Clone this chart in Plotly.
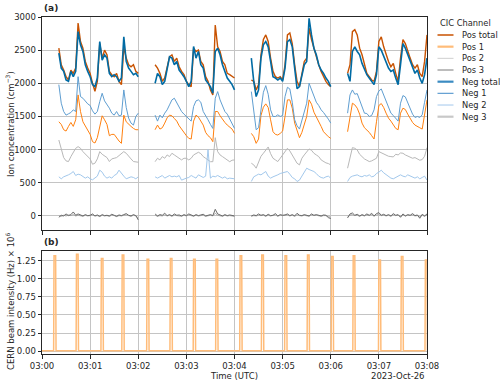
import datetime as dt
import plotly.graph_objects as go

# ---------------- data ----------------
BASE = dt.datetime(2023, 10, 26, 3, 0, 0)
segment_start_minutes = [0, 2, 4, 6]
sample_seconds = list(range(21, 121, 3))  # 34 samples per measurement segment

series_names = ["Pos total", "Pos 1", "Pos 2", "Pos 3", "Neg total", "Neg 1", "Neg 2", "Neg 3"]

pos_total = [
    [2530, 2280, 2200, 2100, 2050, 2200, 2150, 2230, 2910, 2630, 2530, 2330, 2230, 2150, 2000, 1880, 2030,
     2600, 2380, 2500, 2430, 2180, 2130, 2100, 2150, 2030, 1980, 2550, 2380, 2280, 2250, 2280, 2180, 2150],
    [2280, 2230, 2150, 2030, 2080, 2230, 2400, 2430, 2330, 2380, 2250, 2180, 2130, 2030, 1980, 1950, 2530,
     2480, 2500, 2330, 2280, 2100, 2030, 1900, 1825, 2880, 2550, 2480, 2330, 2280, 2150, 2130, 2100, 2080],
    [2050, 2030, 1900, 1980, 2430, 2660, 2730, 2630, 2380, 2180, 2100, 2080, 2100, 2050, 2280, 2730, 2760,
     2600, 2280, 2030, 1950, 2130, 2330, 2380, 2830, 2660, 2530, 2380, 2280, 2180, 2100, 2030, 1980, 1950],
    [2150, 2280, 2780, 2810, 2730, 2530, 2430, 2280, 2150, 2100, 2050, 2030, 2180, 2630, 2700, 2550, 2430,
     2330, 2250, 2300, 2150, 2030, 2380, 2660, 2600, 2480, 2380, 2280, 2230, 2280, 2150, 2100, 2330, 2730],
]
neg_total = [
    [2455, 2230, 2180, 2050, 2030, 2180, 2100, 2180, 2780, 2580, 2480, 2280, 2180, 2100, 1980, 1950, 2080,
     2630, 2350, 2430, 2380, 2150, 2100, 2130, 2100, 2030, 2080, 2700, 2330, 2230, 2180, 2130, 2150, 2100],
    [2000, 2150, 2100, 1980, 2030, 2200, 2400, 2380, 2280, 2330, 2200, 2150, 2100, 2030, 1950, 2030, 2555,
     2380, 2480, 2280, 2230, 2050, 2000, 1950, 1850, 2480, 2530, 2430, 2280, 2180, 2080, 2030, 1980, 1900],
    [2380, 2030, 1800, 1900, 2380, 2580, 2630, 2550, 2330, 2100, 2080, 2050, 2080, 2030, 2230, 2630, 2660,
     2550, 2230, 1920, 1950, 2100, 2280, 2330, 2980, 2730, 2530, 2430, 2280, 2200, 2150, 2080, 2030, 1950],
    [2150, 2030, 2480, 2550, 2480, 2430, 2300, 2200, 2130, 2080, 2030, 1980, 2130, 2550, 2500, 2400, 2330,
     2230, 2180, 2200, 2080, 1980, 2280, 2600, 2530, 2430, 2330, 2230, 2150, 2200, 2080, 2000, 2130, 2380],
]
neg_1 = [
    [1980, 1700, 1575, 1520, 1540, 1560, 1600, 1575, 2100, 1800, 1775, 1725, 1690, 1665, 1585, 1535, 1575,
     1725, 1850, 1735, 1685, 1625, 1550, 1520, 1575, 1510, 1520, 1900, 1635, 1475, 1400, 1370, 1500, 1550],
    [1520, 1430, 1520, 1480, 1550, 1600, 1675, 1750, 1775, 1700, 1635, 1575, 1535, 1500, 1450, 1430, 1650,
     1735, 1750, 1715, 1575, 1500, 1450, 1380, 1320, 1775, 1875, 1750, 1650, 1575, 1535, 1460, 1400, 1320],
    [1875, 1600, 1300, 1330, 1615, 1865, 1965, 1835, 1600, 1500, 1500, 1525, 1500, 1515, 1800, 1940, 1915,
     1715, 1450, 1360, 1310, 1450, 1585, 1700, 2000, 1900, 1785, 1715, 1665, 1600, 1560, 1515, 1460, 1400],
    [1550, 1825, 1900, 1835, 1845, 1750, 1665, 1550, 1545, 1500, 1515, 1600, 1800, 1885, 1915, 1825, 1735,
     1625, 1550, 1515, 1475, 1430, 1700, 1815, 1795, 1715, 1635, 1535, 1485, 1500, 1485, 1525, 1715, 1900],
]
pos_1 = [
    [1420, 1380, 1300, 1280, 1350, 1410, 1350, 1450, 1825, 1575, 1420, 1360, 1300, 1230, 1120, 1100, 1180,
     1370, 1510, 1450, 1380, 1210, 1230, 1230, 1170, 1130, 1095, 1520, 1420, 1380, 1350, 1320, 1300, 1300],
    [1300, 1370, 1310, 1330, 1400, 1480, 1520, 1510, 1470, 1430, 1360, 1310, 1245, 1210, 1170, 1160, 1430,
     1520, 1490, 1430, 1370, 1260, 1210, 1180, 1120, 1575, 1575, 1510, 1450, 1410, 1370, 1340, 1310, 1245],
    [1245, 1195, 1095, 1160, 1515, 1640, 1690, 1635, 1450, 1270, 1230, 1220, 1245, 1280, 1500, 1750, 1750,
     1625, 1400, 1270, 1180, 1260, 1400, 1500, 1750, 1685, 1565, 1500, 1420, 1350, 1270, 1230, 1195, 1170],
    [1270, 1500, 1700, 1675, 1625, 1535, 1400, 1330, 1300, 1260, 1210, 1160, 1420, 1665, 1695, 1635, 1550,
     1475, 1430, 1370, 1320, 1300, 1550, 1625, 1605, 1535, 1460, 1410, 1370, 1355, 1330, 1310, 1525, 1750],
]
pos_2 = [
    [1145, 995, 880, 830, 820, 895, 960, 1020, 1045, 1020, 970, 930, 895, 860, 780, 795, 860,
     970, 930, 910, 880, 820, 860, 870, 880, 910, 945, 970, 945, 895, 860, 820, 820, 810],
    [818, 870, 845, 895, 870, 920, 895, 945, 920, 895, 870, 845, 870, 870, 845, 870, 920,
     945, 960, 940, 895, 870, 845, 818, 818, 1180, 970, 920, 895, 870, 845, 818, 840, 845],
    [795, 770, 720, 820, 900, 945, 995, 1040, 940, 870, 845, 820, 870, 920, 970, 1020, 980,
     920, 870, 795, 770, 870, 920, 970, 1010, 990, 945, 920, 895, 845, 820, 800, 790, 770],
    [720, 900, 1030, 1020, 995, 930, 890, 860, 840, 820, 830, 850, 870, 970, 950, 940, 920,
     900, 895, 890, 930, 920, 950, 945, 920, 900, 880, 870, 880, 860, 840, 850, 900, 1030],
]
neg_2 = [
    [590, 560, 590, 600, 620, 640, 670, 610, 630, 620, 600, 570, 590, 560, 545, 580, 600,
     690, 660, 600, 570, 590, 570, 610, 630, 690, 640, 600, 560, 580, 590, 580, 560, 590],
    [590, 570, 590, 610, 570, 590, 610, 590, 600, 590, 610, 540, 560, 570, 580, 610, 590,
     570, 620, 600, 580, 600, 1000, 570, 600, 590, 610, 590, 570, 590, 560, 570, 570, 560],
    [520, 590, 610, 630, 620, 640, 670, 600, 570, 590, 600, 620, 640, 650, 660, 670, 630,
     580, 560, 520, 540, 600, 680, 720, 700, 690, 670, 640, 600, 580, 570, 590, 600, 570],
    [520, 580, 600, 610, 620, 600, 590, 610, 600, 620, 590, 600, 640, 660, 690, 650, 620,
     600, 570, 560, 580, 600, 620, 600, 590, 620, 600, 580, 570, 590, 560, 580, 600, 540],
]
pos_3 = [
    [-20, 10, 0, 30, 5, 20, 60, 10, 30, 15, 0, 20, 5, 10, 30, 0, 15,
     -5, 20, 5, 10, 0, 25, 10, -5, 15, 5, 20, 35, 10, 0, 20, 5, -60],
    [30, 0, 20, 10, 40, 5, 20, 0, 30, 10, 15, 0, 20, 5, 30, 10, 0,
     20, 5, 15, 25, 0, 10, 20, 5, 100, 30, 10, 0, 20, 5, 15, 10, 0],
    [0, 15, 5, 30, 10, 20, 0, 25, 5, 10, 35, 0, 20, 10, 15, 30, 5,
     20, 0, 40, 10, 5, 20, 15, 0, 30, 10, 20, 5, 0, 15, 10, -25, -40],
    [-30, 30, 45, 10, 25, 0, 20, 5, 30, 10, 40, 0, 35, 50, 10, 25, 5,
     20, 0, 35, 10, 20, -20, 30, 0, 20, 10, 35, 5, 15, -35, 25, 0, 30],
]
neg_3 = [
    [5, -5, 10, 0, 15, 5, 20, 0, 10, 5, -5, 10, 0, 5, 15, 0, 5,
     -10, 10, 0, 5, -5, 10, 5, -10, 5, 0, 10, 15, 5, -5, 10, 0, -30],
    [10, -5, 5, 0, 15, 0, 10, -5, 10, 5, 0, -5, 10, 0, 15, 5, -5,
     10, 0, 5, 10, -5, 5, 10, 0, 40, 10, 5, -5, 10, 0, 5, 5, -5],
    [-5, 5, 0, 10, 5, 10, -5, 10, 0, 5, 15, -5, 10, 5, 5, 15, 0,
     10, -5, 15, 5, 0, 10, 5, -5, 15, 5, 10, 0, -5, 5, 5, -10, -20],
    [-15, 10, 20, 5, 10, -5, 10, 0, 15, 5, 20, -5, 15, 20, 5, 10, 0,
     10, -5, 15, 5, 10, -10, 15, 0, 10, 5, 15, 0, 5, -15, 10, -5, 15],
]

# CERN beam spills: seconds after 03:00:00 and peak intensity (x 1e6 Hz)
pulse_seconds = [16, 44, 75, 101, 132, 161, 190, 218, 248, 275, 304, 332, 362, 389, 421, 449, 479]
pulse_heights = [1.32, 1.34, 1.28, 1.33, 1.27, 1.28, 1.27, 1.27, 1.32, 1.33, 1.32, 1.33, 1.31, 1.32,
                 1.26, 1.31, 1.26]
beam_baseline = 0.005

# ---------------- helpers ----------------
def seg_xy(values_by_seg):
    xs, ys = [], []
    for m, vals in zip(segment_start_minutes, values_by_seg):
        for s, v in zip(sample_seconds, vals):
            xs.append(BASE + dt.timedelta(minutes=m, seconds=s))
            ys.append(v)
        xs.append(None)
        ys.append(None)
    return xs, ys


def beam_xy():
    xs = [BASE]
    ys = [beam_baseline]
    for t, h in zip(pulse_seconds, pulse_heights):
        for dtsec, val in ((-1.5, beam_baseline), (-1.0, h), (1.0, h), (1.5, beam_baseline)):
            xs.append(BASE + dt.timedelta(seconds=t + dtsec))
            ys.append(val)
    xs.append(BASE + dt.timedelta(minutes=8))
    ys.append(beam_baseline)
    return xs, ys


series_data = [pos_total, pos_1, pos_2, pos_3, neg_total, neg_1, neg_2, neg_3]
plot_colors = ["#c85200", "#ff800e", "#b8b8b8", "#6b6b6b", "#006ba4", "#5f9ed1", "#a2c8ec", "#ababab"]
plot_widths = [1.4, 1.0, 1.0, 1.0, 1.6, 1.0, 1.0, 1.0]
draw_order = [7, 0, 1, 2, 3, 4, 5, 6]

fig = go.Figure()
for i in draw_order:
    x, y = seg_xy(series_data[i])
    fig.add_trace(go.Scatter(x=x, y=y, mode="lines", name=series_names[i],
                             line=dict(color=plot_colors[i], width=plot_widths[i]),
                             connectgaps=False, xaxis="x", yaxis="y", showlegend=False))

bx, by = beam_xy()
fig.add_trace(go.Scatter(x=bx, y=by, mode="lines", name="CERN beam",
                         line=dict(color="#ffbc79", width=1.5), xaxis="x2", yaxis="y2", showlegend=False))

# ---------------- layout ----------------
W, H = 500, 386
ML, MR, MT, MB = 42, 73, 17, 32
PW, PH = W - ML - MR, H - MT - MB

def py(ypx):
    return (H - MB - ypx) / PH

def px(xpx):
    return (xpx - ML) / PW

FONT = "DejaVu Sans"
TXT = "#262626"
axis_common = dict(showline=True, linecolor=TXT, linewidth=1, mirror=True, ticks="outside", ticklen=3.5,
                   tickwidth=0.8, tickcolor=TXT, showgrid=True, gridcolor="#c4c4c4", gridwidth=0.8,
                   zeroline=False, tickfont=dict(family=FONT, size=8.5, color=TXT))
x_common = dict(type="date", range=[BASE, BASE + dt.timedelta(minutes=8)], tick0=BASE, dtick=60000,
                tickformat="%H:%M", **axis_common)

fig.update_layout(
    width=W, height=H, margin=dict(l=ML, r=MR, t=MT, b=MB),
    paper_bgcolor="white", plot_bgcolor="white", showlegend=False,
    font=dict(family=FONT, size=8.5, color=TXT),
    xaxis=dict(anchor="y", showticklabels=False, **x_common),
    yaxis=dict(domain=[py(230), 1.0], anchor="x", range=[-212, 3000],
               tickvals=[0, 500, 1000, 1500, 2000, 2500, 3000], **axis_common),
    xaxis2=dict(anchor="y2", matches="x", showticklabels=True, **x_common),
    yaxis2=dict(domain=[0.0, py(251)], anchor="x2", range=[-0.04, 1.385],
                tickvals=[0, 0.25, 0.5, 0.75, 1.0, 1.25], tickformat=".2f", **axis_common),
)

annotations = [
    dict(text="<b>(a)</b>", x=0, y=py(8), xanchor="left", yanchor="middle", font=dict(size=9)),
    dict(text="<b>(b)</b>", x=0, y=py(242), xanchor="left", yanchor="middle", font=dict(size=9)),
    dict(text="Ion concentration (cm<sup>−3</sup>)", x=px(10), y=py(124), textangle=-90,
         xanchor="center", yanchor="middle"),
    dict(text="CERN beam intensity (Hz) × 10<sup>6</sup>", x=px(10), y=py(302), textangle=-90,
         xanchor="center", yanchor="middle"),
    dict(text="Time (UTC)", x=px(234), y=py(376), xanchor="center", yanchor="middle"),
    dict(text="2023-Oct-26", x=1.0, y=py(376), xanchor="right", yanchor="middle"),
    dict(text="CIC Channel", x=px(465), y=py(23), xanchor="center", yanchor="middle", font=dict(size=8.3)),
]

# legend (drawn manually to match compact matplotlib spacing)
legend_colors = ["#c85200", "#ffbc79", "#cfcfcf", "#7a7a7a", "#3b8bc2", "#5f9ed1", "#a2c8ec", "#c8c8c8"]
legend_widths = [1.5, 2.2, 1.0, 1.0, 2.2, 1.2, 1.0, 2.2]
shapes = []
for i, name in enumerate(series_names):
    yy = py(35 + 11.67 * i)
    shapes.append(dict(type="line", xref="paper", yref="paper", x0=px(437.5), x1=px(453.5), y0=yy, y1=yy,
                       line=dict(color=legend_colors[i], width=legend_widths[i])))
    annotations.append(dict(text=name, x=px(460), y=yy, xanchor="left", yanchor="middle",
                            font=dict(size=8.3)))

for a in annotations:
    a.setdefault("xref", "paper")
    a.setdefault("yref", "paper")
    a.setdefault("showarrow", False)
fig.update_layout(annotations=annotations, shapes=shapes)

fig.write_html("out.html", config={"displayModeBar": False},
               post_script="document.body.style.margin='0';")
